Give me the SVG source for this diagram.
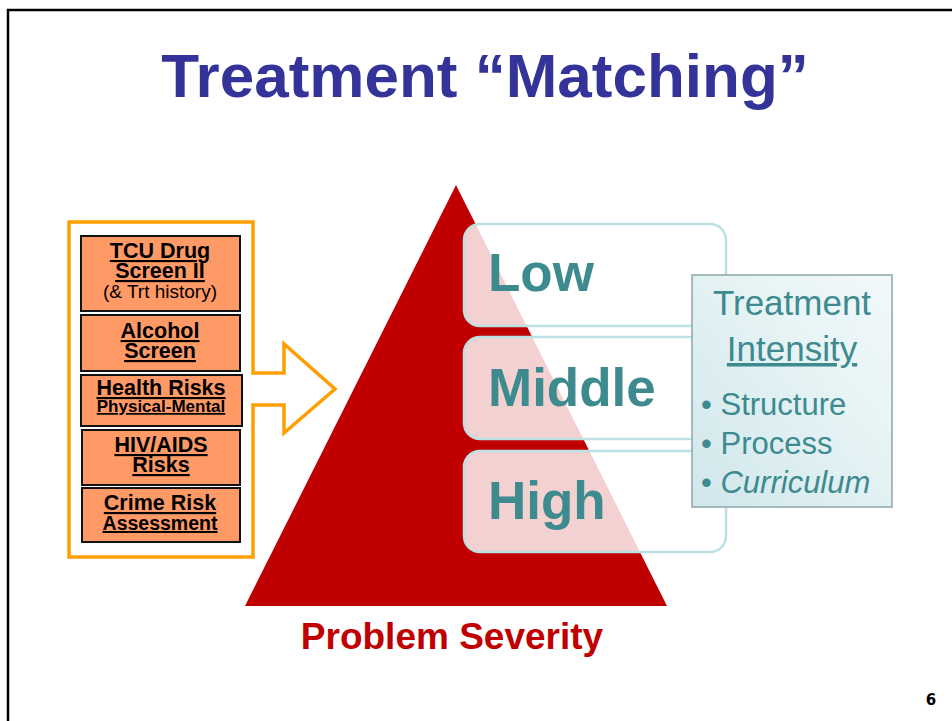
<svg xmlns="http://www.w3.org/2000/svg" width="952" height="721" viewBox="0 0 952 721">
<defs>
<style>
.frame{fill:none;stroke:#000;stroke-width:2.5}
.title{font-family:"Liberation Sans",Arial,sans-serif;font-weight:bold;font-size:62px;fill:#333399}
.sev{font-family:"Liberation Sans",Arial,sans-serif;font-weight:bold;font-size:37px;fill:#C00000}
.scr{fill:#FF9966;stroke:#111;stroke-width:2}
.st{font-family:"Liberation Sans",Arial,sans-serif;font-weight:bold;fill:#000;text-decoration:underline;text-anchor:middle}
.lvl{fill:#fff;fill-opacity:0.82;stroke:#BCE0E3;stroke-width:2.5}
.lt{font-family:"Liberation Sans",Arial,sans-serif;font-weight:bold;font-size:53px;fill:#3D8A8F}
.ti{font-family:"Liberation Sans",Arial,sans-serif;fill:#3D8A8F}
.orange{fill:#fff;stroke:#FF9E00;stroke-width:3.5;stroke-linejoin:miter}
</style>
<linearGradient id="tg" x1="0" y1="1" x2="1" y2="0">
<stop offset="0" stop-color="#D0E7EB"/>
<stop offset="0.6" stop-color="#E6F3F5"/>
<stop offset="1" stop-color="#F2F9FA"/>
</linearGradient>
</defs>
<rect width="952" height="721" fill="#fff"/>
<path class="frame" d="M8 721 V10 H952"/>
<text class="title" x="485" y="97" text-anchor="middle">Treatment “Matching”</text>

<g id="connectors">
<path class="orange" d="M69 222 H253 V373 H284 V344 L335 389 L284 433 V405 H253 V557 H69 Z"/>
</g>

<g id="screens">
<g id="tcu">
<rect class="scr" x="81" y="236" width="159" height="75"/>
<text class="st" x="160" y="258" font-size="21.5">TCU Drug</text>
<text class="st" x="160" y="278" font-size="21.5">Screen II</text>
<text x="160" y="298" font-size="19" text-anchor="middle" font-family="Liberation Sans,Arial,sans-serif">(&amp; Trt history)</text>
</g>
<g id="alcohol">
<rect class="scr" x="81" y="315" width="159" height="56"/>
<text class="st" x="160" y="338" font-size="21.5">Alcohol</text>
<text class="st" x="160" y="358" font-size="21.5">Screen</text>
</g>
<g id="health">
<rect class="scr" x="81" y="375" width="161" height="51"/>
<text class="st" x="161" y="395" font-size="21.5">Health Risks</text>
<text class="st" x="161" y="412" font-size="17">Physical-Mental</text>
</g>
<g id="hiv">
<rect class="scr" x="82" y="430" width="158" height="55"/>
<text class="st" x="161" y="452" font-size="21.5">HIV/AIDS</text>
<text class="st" x="161" y="472" font-size="21.5">Risks</text>
</g>
<g id="crime">
<rect class="scr" x="82" y="488" width="158" height="54"/>
<text class="st" x="160" y="510" font-size="21.5">Crime Risk</text>
<text class="st" x="160" y="530" font-size="19.5">Assessment</text>
</g>
</g>

<g id="triangle">
<polygon points="456,185 667,606 245,606" fill="#C00000"/>
<text class="sev" x="452" y="649" text-anchor="middle">Problem Severity</text>
</g>

<g id="low">
<rect class="lvl" x="464" y="224" width="262" height="102" rx="16"/>
<text class="lt" x="488" y="291">Low</text>
</g>
<g id="middle">
<rect class="lvl" x="464" y="337" width="262" height="102" rx="16"/>
<text class="lt" x="488" y="406">Middle</text>
</g>
<g id="high">
<rect class="lvl" x="464" y="451" width="262" height="101" rx="16"/>
<text class="lt" x="488" y="519">High</text>
</g>

<g id="intensity">
<rect x="692" y="275" width="200" height="232" fill="url(#tg)" stroke="#8CA7A9" stroke-width="1.5"/>
<text class="ti" x="792" y="315" font-size="35" text-anchor="middle">Treatment</text>
<text class="ti" x="792" y="361" font-size="35" text-anchor="middle" text-decoration="underline">Intensity</text>
<text class="ti" x="701" y="415" font-size="31">• Structure</text>
<text class="ti" x="701" y="454" font-size="31">• Process</text>
<text class="ti" x="701" y="493" font-size="31">• <tspan font-style="italic">Curriculum</tspan></text>
</g>

<text x="931" y="705" font-family="DejaVu Sans,sans-serif" font-weight="bold" font-size="15" text-anchor="middle">6</text>
</svg>
